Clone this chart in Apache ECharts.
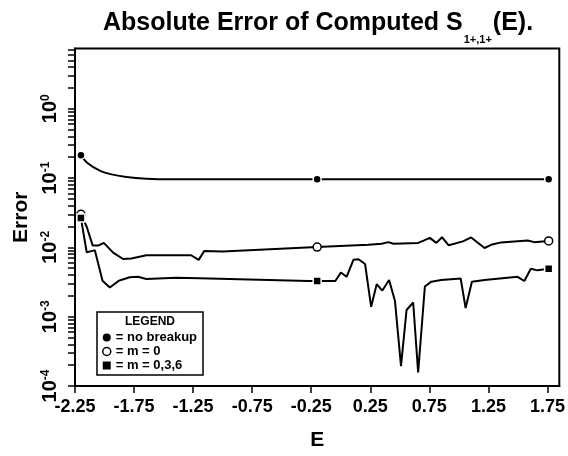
<!DOCTYPE html>
<html>
<head>
<meta charset="utf-8">
<script src="https://cdn.jsdelivr.net/npm/echarts@6/dist/echarts.min.js"></script>
<style>
  html, body { margin: 0; padding: 0; background: #fff; }
  #chart { width: 568px; height: 456px; }
</style>
</head>
<body>
<div id="chart"></div>
<script>
// values (E, absolute error)
var noBreakupE   = [-2.2, -2.15, -2.04, -1.93, -1.815, -1.645, -1.45, -1.2, -0.2, 1.76];
var noBreakupErr = [0.214, 0.168, 0.128, 0.112, 0.1035, 0.098, 0.096, 0.096, 0.096, 0.096];
var noBreakupMarks = [0, 8, 9];

var m0E = [-2.2, -2.15, -2.1, -2.054, -2.006, -1.927, -1.843, -1.773, -1.646, -1.267, -1.203, -1.155, -1.0,
  -0.2, 0.234, 0.346, 0.403, 0.445, 0.655, 0.706, 0.754, 0.809, 0.857, 0.914, 1.034, 1.104, 1.217, 1.273,
  1.357, 1.582, 1.638, 1.708, 1.76];
var m0Err = [0.030, 0.0197, 0.0106, 0.0106, 0.0116, 0.0084, 0.0068, 0.0069, 0.0077, 0.0077, 0.0066, 0.0089, 0.0087,
  0.0101, 0.0109, 0.0113, 0.0119, 0.0113, 0.0116, 0.0126, 0.0137, 0.0116, 0.0140, 0.0107, 0.0122, 0.0139, 0.0098, 0.0109,
  0.0118, 0.0126, 0.0119, 0.0122, 0.0124];
var m0Marks = [0, 13, 32];

var m036E = [-2.2, -2.151, -2.101, -2.082, -2.017, -1.955, -1.879, -1.787, -1.717, -1.646, -1.394, -1.197, -0.271,
  -0.2, -0.046, 0.001, 0.049, 0.108, 0.150, 0.206, 0.257, 0.304, 0.352, 0.409, 0.459, 0.510, 0.557, 0.613, 0.655,
  0.712, 0.767, 0.851, 1.015, 1.057, 1.110, 1.217, 1.497, 1.554, 1.609, 1.666, 1.76];
var m036Err = [0.0266, 0.0085, 0.0089, 0.0091, 0.0033, 0.00264, 0.0033, 0.0037, 0.00376, 0.0035, 0.00364, 0.00358, 0.00327,
  0.00327, 0.00327, 0.00435, 0.00376, 0.00664, 0.00674, 0.00575, 0.00139, 0.00294, 0.00238, 0.00338, 0.00168, 0.000193, 0.00125, 0.0016, 0.000157,
  0.00273, 0.0032, 0.00338, 0.00356, 0.00133, 0.0032, 0.00338, 0.00376, 0.00327, 0.00491, 0.00466, 0.00491];
var m036Marks = [0, 13, 40];

var xTicks = [-2.25, -1.75, -1.25, -0.75, -0.25, 0.25, 0.75, 1.25, 1.75];
var yDecades = [1e-4, 1e-3, 1e-2, 1e-1, 1];
var yMax = 7.4;

var font = '"Liberation Sans", Arial, Helvetica, sans-serif';

// minor ticks 2..9 in every decade
var yTicks = [];
yDecades.forEach(function (d) {
  for (var k = 1; k < 10; k++) {
    if (d * k <= yMax) yTicks.push(d * k);
  }
});

function lineData(es, vs, marks, markStyle) {
  return es.map(function (e, i) {
    var item = { value: [e, vs[i]] };
    if (marks.indexOf(i) >= 0) {
      item.symbol = markStyle.symbol;
      item.symbolSize = markStyle.size;
      item.itemStyle = markStyle.itemStyle;
    }
    return item;
  });
}

var chart = echarts.init(document.getElementById('chart'));
chart.setOption({
  animation: false,
  backgroundColor: '#fff',
  title: {
    text: 'Absolute Error of Computed S{s|1+,1+}(E).',
    left: 103,
    top: 1,
    padding: 0,
    textStyle: {
      fontFamily: font,
      fontWeight: 'bold',
      fontSize: 25,
      color: '#000',
      rich: {
        s: { fontFamily: font, fontWeight: 'bold', fontSize: 11, color: '#000', verticalAlign: 'bottom', padding: [33, 1, 0, 1] }
      }
    }
  },
  grid: {
    left: 75, right: 6, top: 48.5, bottom: 58,
    show: true, borderColor: '#000', borderWidth: 2
  },
  legend: {
    left: 97, top: 312,
    orient: 'vertical',
    padding: [19, 6, 3, 5],
    itemGap: 1,
    itemWidth: 8, itemHeight: 8,
    borderColor: '#000', borderWidth: 1.5,
    formatter: '= {name}',
    textStyle: { fontFamily: font, fontWeight: 'bold', fontSize: 13, lineHeight: 13, color: '#000' },
    data: [
      { name: 'no breakup', icon: 'circle', itemStyle: { color: '#000' } },
      { name: 'm = 0', icon: 'circle', itemStyle: { color: '#fff', borderColor: '#000', borderWidth: 1.5 } },
      { name: 'm = 0,3,6', icon: 'rect', itemStyle: { color: '#000' } }
    ]
  },
  graphic: [{
    type: 'text', left: 125, top: 316,
    style: { text: 'LEGEND', font: 'bold 12px ' + font, fill: '#000' }
  }],
  xAxis: {
    type: 'value',
    min: -2.25, max: 1.85,
    name: 'E', nameLocation: 'middle', nameGap: 44,
    nameTextStyle: { fontFamily: font, fontWeight: 'bold', fontSize: 21, color: '#000' },
    axisLine: { show: true, onZero: false, lineStyle: { color: '#000', width: 2 } },
    axisTick: { show: true, customValues: xTicks, length: 7, lineStyle: { color: '#000', width: 1.5 } },
    axisLabel: {
      customValues: xTicks, margin: 12,
      fontFamily: font, fontWeight: 'bold', fontSize: 18, color: '#000',
      formatter: function (v) { return v.toFixed(2); }
    },
    splitLine: { show: false }
  },
  yAxis: {
    type: 'log', logBase: 10,
    min: 1e-4, max: yMax,
    name: 'Error', nameLocation: 'middle', nameRotate: 90, nameGap: 43,
    nameTextStyle: { fontFamily: font, fontWeight: 'bold', fontSize: 21, color: '#000' },
    axisLine: { show: true, onZero: false, lineStyle: { color: '#000', width: 2 } },
    axisTick: { show: true, customValues: yTicks, length: 7, lineStyle: { color: '#000', width: 1.5 } },
    axisLabel: {
      customValues: yDecades, rotate: 90, margin: 15,
      fontFamily: font, fontWeight: 'bold', fontSize: 20, color: '#000',
      formatter: function (v) {
        return '{b|10}{e|' + Math.round(Math.log10(v)) + '}';
      },
      rich: {
        b: { fontFamily: font, fontWeight: 'bold', fontSize: 20, color: '#000' },
        e: { fontFamily: font, fontWeight: 'bold', fontSize: 12, color: '#000', verticalAlign: 'top' }
      }
    },
    splitLine: { show: false }
  },
  series: [
    {
      name: 'no breakup', type: 'line', symbol: 'none', smooth: 0.3,
      lineStyle: { color: '#000', width: 2 },
      itemStyle: { color: '#000' },
      data: lineData(noBreakupE, noBreakupErr, noBreakupMarks,
        { symbol: 'circle', size: 8, itemStyle: { color: '#000', borderColor: '#fff', borderWidth: 1.5 } })
    },
    {
      name: 'm = 0', type: 'line', symbol: 'none',
      lineStyle: { color: '#000', width: 2 },
      itemStyle: { color: '#000' },
      data: lineData(m0E, m0Err, m0Marks,
        { symbol: 'circle', size: 8, itemStyle: { color: '#fff', borderColor: '#000', borderWidth: 1.5 } })
    },
    {
      name: 'm = 0,3,6', type: 'line', symbol: 'none',
      lineStyle: { color: '#000', width: 2 },
      itemStyle: { color: '#000' },
      data: lineData(m036E, m036Err, m036Marks,
        { symbol: 'rect', size: 8, itemStyle: { color: '#000', borderColor: '#fff', borderWidth: 1.5 } })
    }
  ]
});
</script>
</body>
</html>
